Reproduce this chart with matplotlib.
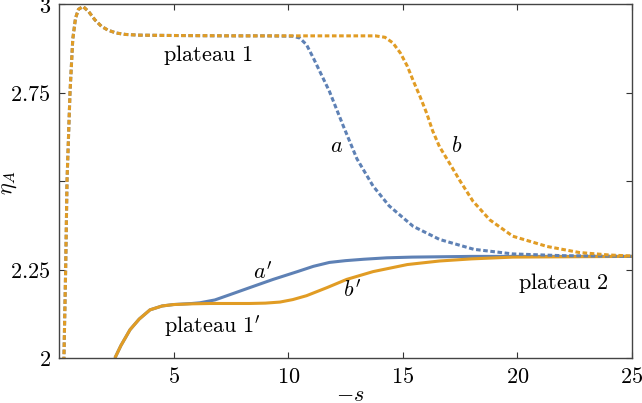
import matplotlib
matplotlib.use("Agg")
import matplotlib.pyplot as plt

plt.rcParams['mathtext.fontset'] = 'cm'
plt.rcParams['font.family'] = ['DejaVu Serif']

# dotted curve a (blue)
a_x = [0.20, 0.29, 0.35, 0.48, 0.60, 0.72, 0.85, 1.05, 1.30, 1.57, 1.85, 2.14, 2.50, 2.90, 3.50,
       5.0, 7.0, 9.0, 10.2, 10.5, 10.8, 11.1, 11.8, 12.4, 13.0, 13.7, 14.4, 15.45, 16.6, 18.1,
       19.8, 22.0, 25.0]
a_y = [1.95, 2.25, 2.50, 2.75, 2.90, 2.96, 2.985, 2.993, 2.978, 2.955, 2.937, 2.926, 2.918, 2.914, 2.912,
       2.911, 2.910, 2.910, 2.909, 2.904, 2.885, 2.847, 2.753, 2.656, 2.5625, 2.486, 2.430, 2.372, 2.335, 2.307,
       2.294, 2.289, 2.287]

# dotted curve b (orange)
b_x = [0.20, 0.29, 0.35, 0.48, 0.60, 0.72, 0.85, 1.05, 1.30, 1.57, 1.85, 2.14, 2.50, 2.90, 3.50,
       5.0, 8.0, 11.0, 13.8, 14.22, 14.57, 14.9, 15.2, 15.45, 15.75, 16.05, 16.3, 16.6, 17.06, 17.5,
       18.06, 18.8, 19.8, 21.3, 22.7, 24.0, 25.0]
b_y = [1.95, 2.25, 2.50, 2.75, 2.90, 2.96, 2.985, 2.993, 2.978, 2.955, 2.937, 2.926, 2.918, 2.914, 2.912,
       2.911, 2.910, 2.910, 2.910, 2.906, 2.890, 2.861, 2.824, 2.784, 2.739, 2.690, 2.642, 2.597, 2.548, 2.500,
       2.443, 2.390, 2.344, 2.315, 2.298, 2.291, 2.288]

# solid curve a'
ap_x = [2.44, 2.70, 3.10, 3.50, 3.97, 4.50, 5.00, 5.80, 6.15, 6.80, 7.46, 8.33, 9.34, 10.4, 11.1,
        11.8, 12.5, 13.3, 14.3, 15.4, 18.0, 25.0]
ap_y = [2.00, 2.035, 2.080, 2.110, 2.136, 2.147, 2.151, 2.154, 2.156, 2.164, 2.179, 2.199, 2.222, 2.244, 2.259,
        2.270, 2.275, 2.279, 2.283, 2.285, 2.287, 2.287]

# solid curve b'
bp_x = [2.44, 2.70, 3.10, 3.50, 3.97, 4.50, 5.00, 5.80, 6.60, 7.50, 8.30, 9.00, 9.64, 10.2, 10.8,
        11.7, 12.55, 13.7, 15.2, 16.6, 18.0, 19.8, 25.0]
bp_y = [2.00, 2.035, 2.080, 2.110, 2.136, 2.147, 2.151, 2.153, 2.154, 2.154, 2.154, 2.155, 2.158, 2.165, 2.176,
        2.199, 2.222, 2.244, 2.264, 2.274, 2.280, 2.285, 2.287]

x_ticks = [5, 10, 15, 20, 25]
y_ticks = [2, 2.25, 2.5, 2.75, 3]
y_tick_labels = ['$2$', '$2.25$', '', '$2.75$', '$3$']

blue = '#5E81B5'
orange = '#E19C24'

fig = plt.figure(figsize=(6.42, 4.03), dpi=100)
ax = fig.add_axes([59/642, 45/403, 573/642, 354/403])

dot = (0, (1.5, 0.85))
ax.plot(ap_x, ap_y, color=blue, lw=2.2, solid_capstyle='butt', solid_joinstyle='round')
ax.plot(bp_x, bp_y, color=orange, lw=2.2, solid_capstyle='butt', solid_joinstyle='round')
ax.plot(a_x, a_y, color=blue, lw=2.2, linestyle=dot)
ax.plot(b_x, b_y, color=orange, lw=2.2, linestyle=dot)

ax.set_xlim(0, 25)
ax.set_ylim(2, 3)
ax.set_xticks(x_ticks)
ax.set_xticklabels([f'${t}$' for t in x_ticks])
ax.set_yticks(y_ticks)
ax.set_yticklabels(y_tick_labels)
ax.tick_params(direction='in', length=4, width=0.8, top=True, right=True,
               labelsize=16, pad=6, colors='#333333', labelcolor='black')
for s in ax.spines.values():
    s.set_color('#444444')
    s.set_linewidth(1.0)

ax.set_xlabel('$-s$', fontsize=16)
ax.xaxis.set_label_coords(0.508, -0.074)
ax.set_ylabel(r'$\eta_A$', fontsize=16)
ax.yaxis.set_label_coords(-0.070, 0.494)

fs = 16
ax.text(6.5, 2.856, r'$\mathrm{plateau}\ 1$', fontsize=fs, ha='center', va='center')
ax.text(12.13, 2.60, '$a$', fontsize=fs, ha='center', va='center')
ax.text(17.37, 2.60, '$b$', fontsize=fs, ha='center', va='center')
ax.text(8.9, 2.24, "$a'$", fontsize=fs, ha='center', va='center')
ax.text(12.8, 2.19, "$b'$", fontsize=fs, ha='center', va='center')
ax.text(6.7, 2.09, r"$\mathrm{plateau}\ 1'$", fontsize=fs, ha='center', va='center')
ax.text(22.0, 2.213, r'$\mathrm{plateau}\ 2$', fontsize=fs, ha='center', va='center')

fig.savefig('out.png', dpi=100)
